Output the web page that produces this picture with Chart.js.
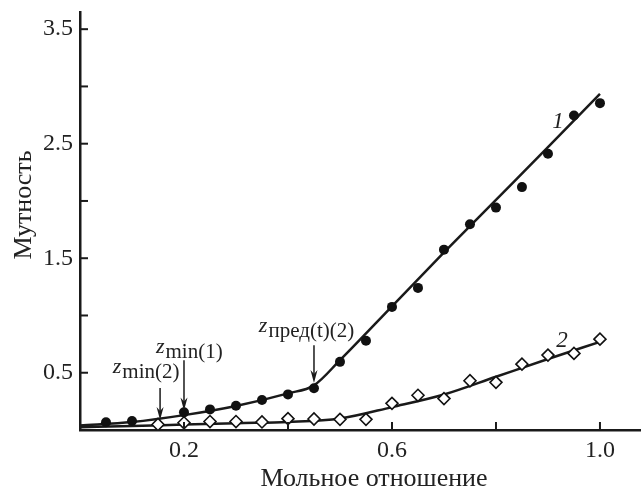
<!DOCTYPE html>
<html>
<head>
<meta charset="utf-8">
<script src="https://cdn.jsdelivr.net/npm/chart.js@4.4.1/dist/chart.umd.min.js"></script>
<style>
  html, body { margin: 0; background: #fff; }
  #box { width: 641px; height: 488px; }
</style>
</head>
<body>
<div id="box"><canvas id="c"></canvas></div>
<script>
// measured points, curve 1 (filled circles)
const x1 = [0.05, 0.1, 0.2, 0.25, 0.3, 0.35, 0.4, 0.45, 0.5, 0.55, 0.6, 0.65, 0.7, 0.75, 0.8, 0.85, 0.9, 0.95, 1.0];
const y1 = [0.067, 0.078, 0.154, 0.18, 0.212, 0.262, 0.311, 0.364, 0.595, 0.779, 1.075, 1.241, 1.575, 1.796, 1.942, 2.121, 2.412, 2.746, 2.854];
// measured points, curve 2 (open diamonds)
const x2 = [0.15, 0.2, 0.25, 0.3, 0.35, 0.4, 0.45, 0.5, 0.55, 0.6, 0.65, 0.7, 0.75, 0.8, 0.85, 0.9, 0.95, 1.0];
const y2 = [0.048, 0.063, 0.074, 0.074, 0.07, 0.099, 0.096, 0.093, 0.093, 0.233, 0.303, 0.274, 0.43, 0.416, 0.575, 0.654, 0.669, 0.793];
// fitted curves as drawn
const fitX1 = [0, 0.1, 0.2, 0.3, 0.4, 0.45, 0.5, 0.6, 0.7, 0.8, 0.9, 1.0];
const fitY1 = [0.04, 0.07, 0.13, 0.21, 0.32, 0.39, 0.61, 1.08, 1.55, 2.01, 2.47, 2.935];
const fitX2 = [0, 0.1, 0.2, 0.3, 0.4, 0.5, 0.6, 0.7, 0.8, 0.9, 1.0];
const fitY2 = [0.025, 0.035, 0.048, 0.06, 0.07, 0.1, 0.2, 0.31, 0.465, 0.62, 0.77];

const xTickVals = [0.2, 0.4, 0.6, 0.8, 1.0];
const xTickText = ['0.2', '', '0.6', '', '1.0'];
const yTickVals = [0.5, 1, 1.5, 2, 2.5, 3, 3.5];
const yTickText = ['0.5', '', '1.5', '', '2.5', '', '3.5'];
const xTitle = 'Мольное отношение';
const yTitle = 'Мутность';

// labels on the plot: [x, y, main, sub]
const notes = [
  [0.146, 0.671, 'z', 'min(1)'],
  [0.063, 0.497, 'z', 'min(2)'],
  [0.344, 0.854, 'z', 'пред(t)(2)']
];
// arrows: [x, yFrom, yTo]
const arrows = [
  [0.2, 0.61, 0.17],
  [0.154, 0.366, 0.087],
  [0.45, 0.74, 0.41]
];
const curveNames = [[0.908, 2.633, '1'], [0.916, 0.724, '2']];

const INK = '#1a1a1a';
const TXT = '#222';
const FONT = 'Liberation Serif';
const pts = (xs, ys) => xs.map((x, i) => ({x, y: ys[i]}));

const extras = {
  id: 'extras',
  afterDraw(chart) {
    const {ctx, scales: {x, y}, chartArea: a} = chart;
    ctx.save();
    ctx.strokeStyle = INK; ctx.fillStyle = INK; ctx.lineWidth = 2;
    // inward tick marks
    xTickVals.forEach(v => {
      const px = x.getPixelForValue(v);
      ctx.beginPath(); ctx.moveTo(px, a.bottom); ctx.lineTo(px, a.bottom - 8); ctx.stroke();
    });
    yTickVals.forEach(v => {
      const py = y.getPixelForValue(v);
      ctx.beginPath(); ctx.moveTo(a.left, py); ctx.lineTo(a.left + 8, py); ctx.stroke();
    });
    // arrows
    ctx.lineWidth = 1.5;
    arrows.forEach(([ax, y0, y1_]) => {
      const px = x.getPixelForValue(ax), p0 = y.getPixelForValue(y0), p1 = y.getPixelForValue(y1_);
      ctx.beginPath(); ctx.moveTo(px, p0); ctx.lineTo(px, p1 - 8); ctx.stroke();
      ctx.beginPath(); ctx.moveTo(px - 3.5, p1 - 13); ctx.lineTo(px, p1); ctx.lineTo(px + 3.5, p1 - 13);
      ctx.lineTo(px, p1 - 9); ctx.closePath(); ctx.fill();
    });
    // z labels with subscripts
    ctx.fillStyle = TXT;
    ctx.textBaseline = 'alphabetic'; ctx.textAlign = 'left';
    notes.forEach(([nx, ny, main, sub]) => {
      const px = x.getPixelForValue(nx), py = y.getPixelForValue(ny);
      ctx.font = `italic 22px "${FONT}"`;
      ctx.fillText(main, px, py);
      const w = ctx.measureText(main).width;
      ctx.font = `21px "${FONT}"`;
      ctx.fillText(sub, px + w + 1, py + 5);
    });
    // curve numbers
    ctx.font = `italic 23px "${FONT}"`;
    curveNames.forEach(([nx, ny, t]) => ctx.fillText(t, x.getPixelForValue(nx), y.getPixelForValue(ny)));
    // axis titles
    ctx.font = `26px "${FONT}"`;
    ctx.textAlign = 'center';
    ctx.fillText(xTitle, a.left + 294, 486);
    ctx.translate(31, a.top + 193);
    ctx.rotate(-Math.PI / 2);
    ctx.fillText(yTitle, 0, 0);
    ctx.restore();
  }
};

new Chart(document.getElementById('c'), {
  type: 'scatter',
  data: {
    datasets: [
      {data: pts(x1, y1), pointStyle: 'circle', pointRadius: 5, backgroundColor: '#111', borderWidth: 0, order: 0},
      {data: pts(x2, y2), pointStyle: 'rectRot', pointRadius: 6, backgroundColor: '#fff', borderColor: '#111', borderWidth: 1.6, order: 0},
      {data: pts(fitX1, fitY1), showLine: true, pointRadius: 0, borderColor: INK, borderWidth: 2.5, cubicInterpolationMode: 'monotone', order: 1},
      {data: pts(fitX2, fitY2), showLine: true, pointRadius: 0, borderColor: INK, borderWidth: 2.5, cubicInterpolationMode: 'monotone', order: 1}
    ]
  },
  options: {
    responsive: true,
    maintainAspectRatio: false,
    devicePixelRatio: 1,
    animation: false,
    layout: {autoPadding: false, padding: {top: 12, right: 1, left: 0, bottom: 0}},
    plugins: {legend: {display: false}, tooltip: {enabled: false}},
    scales: {
      x: {
        type: 'linear', min: 0, max: 1.077,
        afterBuildTicks: s => { s.ticks = xTickVals.map(v => ({value: v})); },
        afterFit: s => { s.height = 58; s.paddingLeft = 0; s.paddingRight = 0; },
        grid: {display: false, drawTicks: false},
        border: {display: true, color: INK, width: 2.5},
        ticks: {callback: (v, i) => xTickText[i], color: TXT, font: {family: FONT, size: 24}, padding: 6, maxRotation: 0, autoSkip: false}
      },
      y: {
        type: 'linear', min: 0, max: 3.65,
        afterBuildTicks: s => { s.ticks = yTickVals.map(v => ({value: v})); },
        afterFit: s => { s.width = 80; s.paddingTop = 0; s.paddingBottom = 0; },
        grid: {display: false, drawTicks: false},
        border: {display: true, color: INK, width: 2.5},
        ticks: {callback: (v, i) => yTickText[i], color: TXT, font: {family: FONT, size: 24}, padding: 7, autoSkip: false}
      }
    }
  },
  plugins: [extras]
});
</script>
</body>
</html>
